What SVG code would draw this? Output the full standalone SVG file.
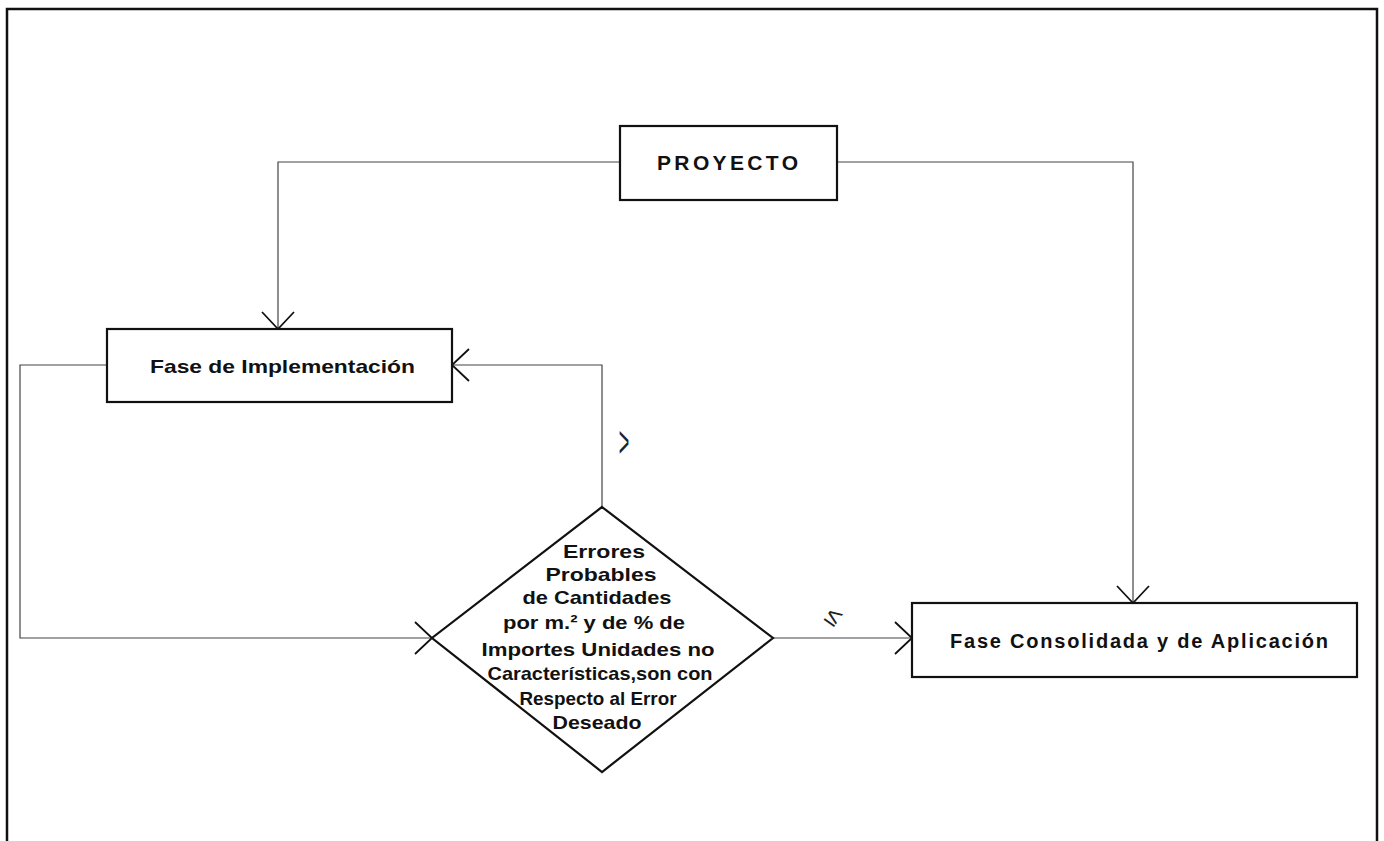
<svg xmlns="http://www.w3.org/2000/svg" width="1384" height="841" viewBox="0 0 1384 841">
<style>
.box{fill:#fff;stroke:#111;stroke-width:2.2}
.conn{fill:none;stroke:#444;stroke-width:1.2}
.t{font-family:"Liberation Sans",Arial,sans-serif;font-weight:bold;fill:#111}
.dt{font-family:"Liberation Sans",Arial,sans-serif;font-weight:bold;fill:#111;font-size:18.5px;text-anchor:middle}
.sym{font-family:"Liberation Sans",Arial,sans-serif;font-weight:normal;fill:#222}
</style>
<defs>
<marker id="arr" markerUnits="userSpaceOnUse" markerWidth="20" markerHeight="36" refX="18" refY="17" orient="auto" viewBox="0 0 20 36">
<path d="M1,1 L18,17 L1,33" fill="none" stroke="#111" stroke-width="1.8"/>
</marker>
</defs>
<rect width="1384" height="841" fill="#fff"/>
<path d="M7,845 V9 H1377 V845" fill="none" stroke="#111" stroke-width="2.5"/>
<g id="connectors">
<path class="conn" d="M620,162 H278 V329" marker-end="url(#arr)"/>
<path class="conn" d="M837,162 H1133 V603" marker-end="url(#arr)"/>
<path class="conn" d="M107,365 H20 V638 H432" marker-end="url(#arr)"/>
<path class="conn" d="M602,507 V365 H452" marker-end="url(#arr)"/>
<path class="conn" d="M773,638 H912" marker-end="url(#arr)"/>
<text class="sym" x="624" y="452" font-size="30" text-anchor="middle" transform="translate(624 442) scale(0.6 1.5) translate(-624 -442)">&gt;</text>
<text class="sym" x="834" y="625" font-size="26" text-anchor="middle" transform="rotate(35 834 616)">≤</text>
</g>
<g id="proyecto">
<rect class="box" x="620" y="126" width="217" height="74"/>
<text class="t" x="657" y="170" font-size="21" textLength="141" lengthAdjust="spacing">PROYECTO</text>
</g>
<g id="fase-implementacion">
<rect class="box" x="107" y="329" width="345" height="73"/>
<text class="t" x="150" y="373" font-size="19" textLength="265" lengthAdjust="spacingAndGlyphs">Fase de Implementación</text>
</g>
<g id="fase-consolidada">
<rect class="box" x="912" y="603" width="445" height="74"/>
<text class="t" x="950" y="648" font-size="20" textLength="378" lengthAdjust="spacing">Fase Consolidada y de Aplicación</text>
</g>
<g id="decision">
<polygon class="box" points="602,507 773,638 602,772 432,638"/>
<text class="dt" x="604" y="558" textLength="82" lengthAdjust="spacingAndGlyphs">Errores</text>
<text class="dt" x="601" y="581" textLength="111" lengthAdjust="spacingAndGlyphs">Probables</text>
<text class="dt" x="597" y="604" textLength="149" lengthAdjust="spacingAndGlyphs">de Cantidades</text>
<text class="dt" x="594" y="629" textLength="182" lengthAdjust="spacingAndGlyphs">por m.² y de % de</text>
<text class="dt" x="598" y="656" textLength="233" lengthAdjust="spacingAndGlyphs">Importes Unidades no</text>
<text class="dt" x="600" y="680" textLength="225" lengthAdjust="spacingAndGlyphs">Características,son con</text>
<text class="dt" x="598" y="705" textLength="157" lengthAdjust="spacingAndGlyphs">Respecto al Error</text>
<text class="dt" x="597" y="729" textLength="89" lengthAdjust="spacingAndGlyphs">Deseado</text>
</g>
</svg>
